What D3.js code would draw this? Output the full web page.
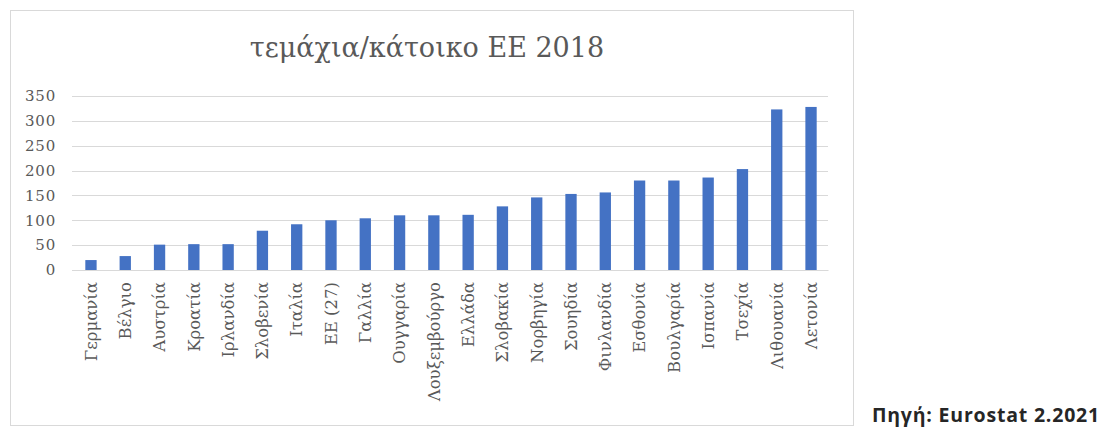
<!DOCTYPE html>
<html>
<head>
<meta charset="utf-8">
<script src="https://cdn.jsdelivr.net/npm/d3@7"></script>
<style>
  body { margin: 0; background: #fff; }
</style>
</head>
<body>
<svg></svg>
<script>
const countries = ["Γερμανία", "Βέλγιο", "Αυστρία", "Κροατία", "Ιρλανδία", "Σλοβενία", "Ιταλία", "ΕΕ (27)", "Γαλλία", "Ουγγαρία", "Λουξεμβούργο", "Ελλάδα", "Σλοβακία", "Νορβηγία", "Σουηδία", "Φινλανδία", "Εσθονία", "Βουλγαρία", "Ισπανία", "Τσεχία", "Λιθουανία", "Λετονία"];
const perResident = [20, 28, 51, 52, 52, 79, 92, 100, 104, 110, 110, 111, 128, 146, 153, 156, 180, 180, 186, 203, 323, 328];
const yTicks = [0, 50, 100, 150, 200, 250, 300, 350];

window.onload = function() {
    const svg = d3.select("svg")
        .attr("width", 1106)
        .attr("height", 432);

    const serif = "DejaVu Serif, serif";

    // chart frame
    svg.append("rect")
        .attr("x", 10.5).attr("y", 10.5)
        .attr("width", 843).attr("height", 415)
        .attr("fill", "#fff")
        .attr("stroke", "#d9d9d9");

    svg.append("text")
        .attr("x", 427).attr("y", 57)
        .attr("text-anchor", "middle")
        .attr("font-family", serif)
        .attr("font-size", 27)
        .attr("fill", "#595959")
        .text("τεμάχια/κάτοικο ΕΕ 2018");

    const x = d3.scaleBand()
        .domain(countries)
        .range([74, 828])
        .paddingInner(0.67)
        .paddingOuter(0.33);

    const y = d3.scaleLinear()
        .domain([0, 350])
        .range([270, 96]);

    // gridlines
    svg.append("g")
        .selectAll("line")
        .data(yTicks)
        .join("line")
        .attr("x1", 72).attr("x2", 828)
        .attr("y1", d => Math.round(y(d)) + 0.5)
        .attr("y2", d => Math.round(y(d)) + 0.5)
        .attr("stroke", "#d9d9d9");

    const yAxis = svg.append("g")
        .attr("transform", "translate(56,0)")
        .call(d3.axisLeft(y).tickValues(yTicks).tickSize(0).tickPadding(0));
    yAxis.attr("font-family", serif).attr("font-size", 15);
    yAxis.select(".domain").remove();
    yAxis.selectAll("text")
        .attr("letter-spacing", 0.8)
        .attr("fill", "#595959");

    svg.selectAll("rect.bar")
        .data(perResident)
        .join("rect")
        .attr("class", "bar")
        .attr("x", (d, i) => x(countries[i]))
        .attr("width", x.bandwidth())
        .attr("y", d => y(d))
        .attr("height", d => y(0) - y(d))
        .attr("fill", "#4472c4");

    const xAxis = svg.append("g")
        .attr("transform", "translate(0,270)")
        .call(d3.axisBottom(x).tickSize(0).tickPadding(0));
    xAxis.attr("font-family", serif).attr("font-size", 16.5);
    xAxis.select(".domain")
        .attr("stroke", "#d9d9d9");
    xAxis.selectAll("text")
        .attr("transform", "translate(0,12) rotate(-90)")
        .attr("text-anchor", "end")
        .attr("dy", "0.35em")
        .attr("x", 0).attr("y", 0)
        .attr("fill", "#595959");

    svg.append("text")
        .attr("x", 1100).attr("y", 422)
        .attr("text-anchor", "end")
        .attr("font-family", "Open Sans, sans-serif")
        .attr("font-weight", "bold")
        .attr("font-size", 19.5)
        .attr("letter-spacing", 0.8)
        .attr("fill", "#262626")
        .text("Πηγή: Eurostat 2.2021");
};
</script>
</body>
</html>
